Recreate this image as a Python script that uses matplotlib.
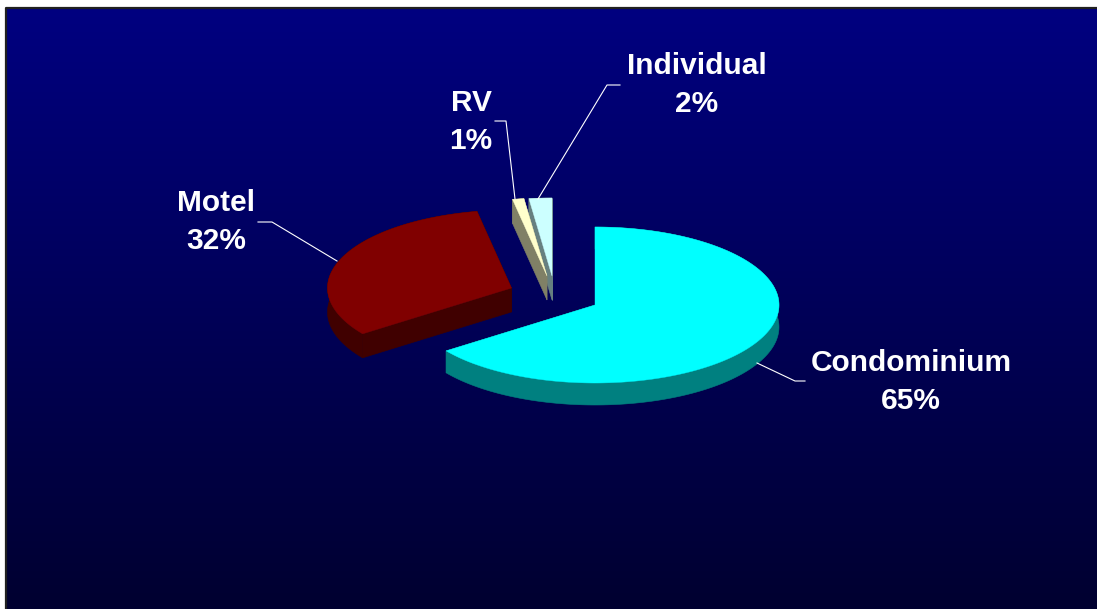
import numpy as np
import matplotlib
matplotlib.use("Agg")
import matplotlib.pyplot as plt
from matplotlib.colors import LinearSegmentedColormap
from matplotlib.patches import Polygon

categories = ["Condominium", "Motel", "RV", "Individual"]
shares = [65, 32, 1, 2]

# layout / style (pixels of the 1097x609 canvas)
W, H = 1097, 609
RX, RY = 184, 78
depths = {"Condominium": 22, "Motel": 24, "RV": 24, "Individual": 24}
centers = {"Condominium": (595, 305), "Motel": (511.5, 288), "RV": (547, 276), "Individual": (552, 276)}
top_colors = {"Condominium": "#00FFFF", "Motel": "#800000", "RV": "#FFFFCC", "Individual": "#CCFFFF"}
side_colors = {"Condominium": "#008080", "Motel": "#400000", "RV": "#808066", "Individual": "#668080"}
label_centers = {"Condominium": (911, 382), "Motel": (216, 222), "RV": (471, 122), "Individual": (697, 85)}
leaders = {
    "Condominium": [(757, 363), (795, 381), (805, 381)],
    "Motel": [(337, 261), (272, 222), (258, 222)],
    "RV": [(515, 199), (506, 121), (495, 121)],
    "Individual": [(538, 199), (607, 85), (620, 85)],
}
draw_order = ["Condominium", "Motel", "Individual", "RV"]

fig = plt.figure(figsize=(W / 100, H / 100), dpi=100, facecolor="white")
ax = fig.add_axes([0, 0, 1, 1])
ax.set_xlim(0, W)
ax.set_ylim(H, 0)
ax.axis("off")

# background gradient and frame
cmap = LinearSegmentedColormap.from_list("bg", ["#000080", "#000030"])
ax.imshow(np.linspace(0, 1, 256).reshape(-1, 1), cmap=cmap, aspect="auto",
          extent=(6, W, H, 8), zorder=0)
ax.set_xlim(0, W)
ax.set_ylim(H, 0)
ax.plot([6, 6, W], [H, 7.5, 7.5], color="#202020", lw=1.6, zorder=1, solid_capstyle="butt")


def wedge_arc(name, start, end):
    cx, cy = centers[name]
    t = np.radians(np.linspace(start, end, max(int(end - start) + 2, 3)))
    return np.column_stack([cx + RX * np.sin(t), cy - RY * np.cos(t)])


# the pie runs clockwise from twelve o'clock
totals = np.cumsum([0] + shares) / sum(shares) * 360
spans = {c: (totals[i], totals[i + 1]) for i, c in enumerate(categories)}

for z, name in enumerate(draw_order):
    arc = wedge_arc(name, *spans[name])
    apex = np.array(centers[name], dtype=float)
    drop = np.array([0, depths[name]])
    base = 2 + z * 2
    walls = [
        np.vstack([arc, (arc + drop)[::-1]]),
        np.array([apex, arc[0], arc[0] + drop, apex + drop]),
        np.array([apex, arc[-1], arc[-1] + drop, apex + drop]),
    ]
    for wall in walls:
        ax.add_patch(Polygon(wall, closed=True, facecolor=side_colors[name],
                             edgecolor=side_colors[name], lw=0.4, zorder=base))
    ax.add_patch(Polygon(np.vstack([apex, arc]), closed=True, facecolor=top_colors[name],
                         edgecolor=top_colors[name], lw=0.3, zorder=base + 1))

for name, share in zip(categories, shares):
    xs, ys = zip(*leaders[name])
    ax.plot(xs, ys, color="white", lw=0.8, zorder=20)
    x, y = label_centers[name]
    ax.text(x, y, f"{name}\n{share}%", color="white", ha="center", va="center",
            fontsize=21.5, fontweight="bold", family="Liberation Sans",
            linespacing=1.42, zorder=21)

fig.savefig("out.png", dpi=100, facecolor="white")
